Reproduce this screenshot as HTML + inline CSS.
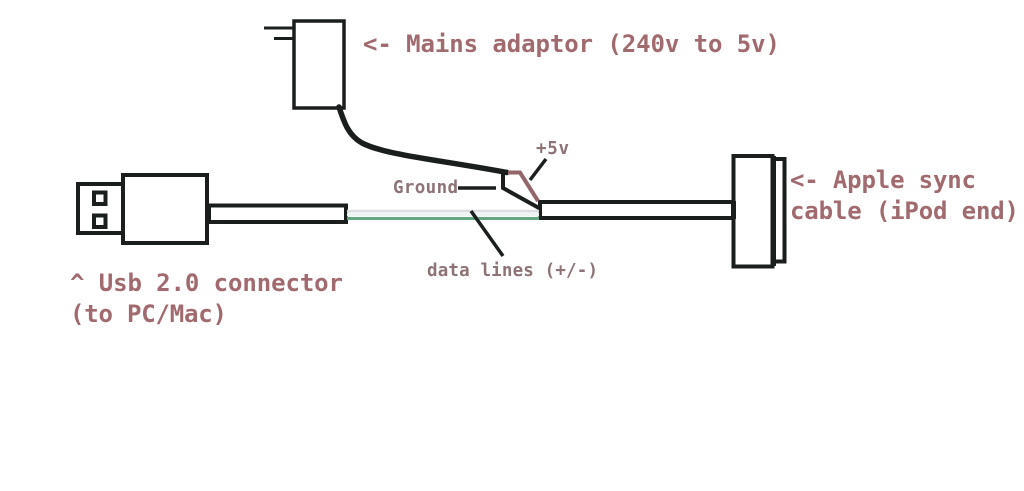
<!DOCTYPE html>
<html>
<head>
<meta charset="utf-8">
<style>
html,body{margin:0;padding:0;background:#fff;width:1024px;height:491px;overflow:hidden}
svg{display:block}
.big{font-family:"DejaVu Sans Mono","Liberation Mono",monospace;font-size:24px;font-weight:bold;fill:#a06a6e}
.small{font-family:"DejaVu Sans Mono","Liberation Mono",monospace;font-size:17.500px;font-weight:bold;fill:#8d7376}
</style>
</head>
<body>
<svg width="1024" height="491" viewBox="0 0 1024 491" xmlns="http://www.w3.org/2000/svg">
<rect width="1024" height="491" fill="#fff"/>
<g fill="none" stroke="#1a1f1e" stroke-width="4">
  <!-- mains adaptor -->
  <rect x="294" y="21" width="50" height="87" stroke-width="3.500"/>
  <path d="M264 28H294M274 38.500H294" stroke-width="3"/>
  <!-- usb -->
  <rect x="78" y="184" width="45" height="49"/>
  <rect x="123" y="175" width="84" height="68"/>
  <rect x="94" y="192.500" width="11.500" height="11.500"/>
  <rect x="94" y="215.500" width="11.500" height="11.500"/>
  <rect x="209" y="205.500" width="137" height="16.500"/>
  <!-- right cable -->
  <rect x="540" y="202" width="193" height="16"/>
  <!-- apple connector -->
  <rect x="733.500" y="156" width="39" height="110.500"/>
  <rect x="772.500" y="159" width="12" height="102.500"/>
</g>
<path d="M731 201H736V219H731Z" fill="#1a1f1e"/>
<path d="M771 156H776V266H771Z" fill="#1a1f1e"/>
<path d="M207 205H211V222H207Z" fill="#1a1f1e"/>
<!-- data lines -->
<path d="M347 211H539" stroke="#dcdde2" stroke-width="2.500" fill="none"/>
<path d="M347 214.500H539" stroke="#eef4f1" stroke-width="4" fill="none"/>
<path d="M347 218.500H539" stroke="#66a582" stroke-width="3" fill="none"/>
<!-- thick power cable -->
<path d="M339 107C344 122 348 135 362 143C385 155 440 160 507 172.500" fill="none" stroke="#1a1f1e" stroke-width="5.500" stroke-linecap="round"/>
<!-- ground wire -->
<path d="M503 173V188L539 208" fill="none" stroke="#1a1f1e" stroke-width="4"/>
<!-- +5v wire -->
<path d="M508 172.500H520L538 201" fill="none" stroke="#93666a" stroke-width="4"/>
<!-- pointers -->
<path d="M530 180L546 159" stroke="#1a1f1e" stroke-width="3.500" fill="none"/>
<path d="M458 188H496" stroke="#1a1f1e" stroke-width="3.500" fill="none"/>
<path d="M471 211L503 256" stroke="#1a1f1e" stroke-width="3.500" fill="none"/>
<!-- labels -->
<text class="big" x="363" y="52" textLength="417" lengthAdjust="spacing">&lt;- Mains adaptor (240v to 5v)</text>
<text class="big" x="790" y="188" textLength="186" lengthAdjust="spacing">&lt;- Apple sync</text>
<text class="big" x="790" y="219" textLength="229" lengthAdjust="spacing">cable (iPod end)</text>
<text class="big" x="70" y="291" textLength="273" lengthAdjust="spacing">^ Usb 2.0 connector</text>
<text class="big" x="70" y="322" textLength="157" lengthAdjust="spacing">(to PC/Mac)</text>
<text class="small" x="393" y="193" textLength="65" lengthAdjust="spacing">Ground</text>
<text class="small" x="536" y="154" textLength="33" lengthAdjust="spacing">+5v</text>
<text class="small" x="427" y="276" textLength="171" lengthAdjust="spacing">data lines (+/-)</text>
</svg>
</body>
</html>
